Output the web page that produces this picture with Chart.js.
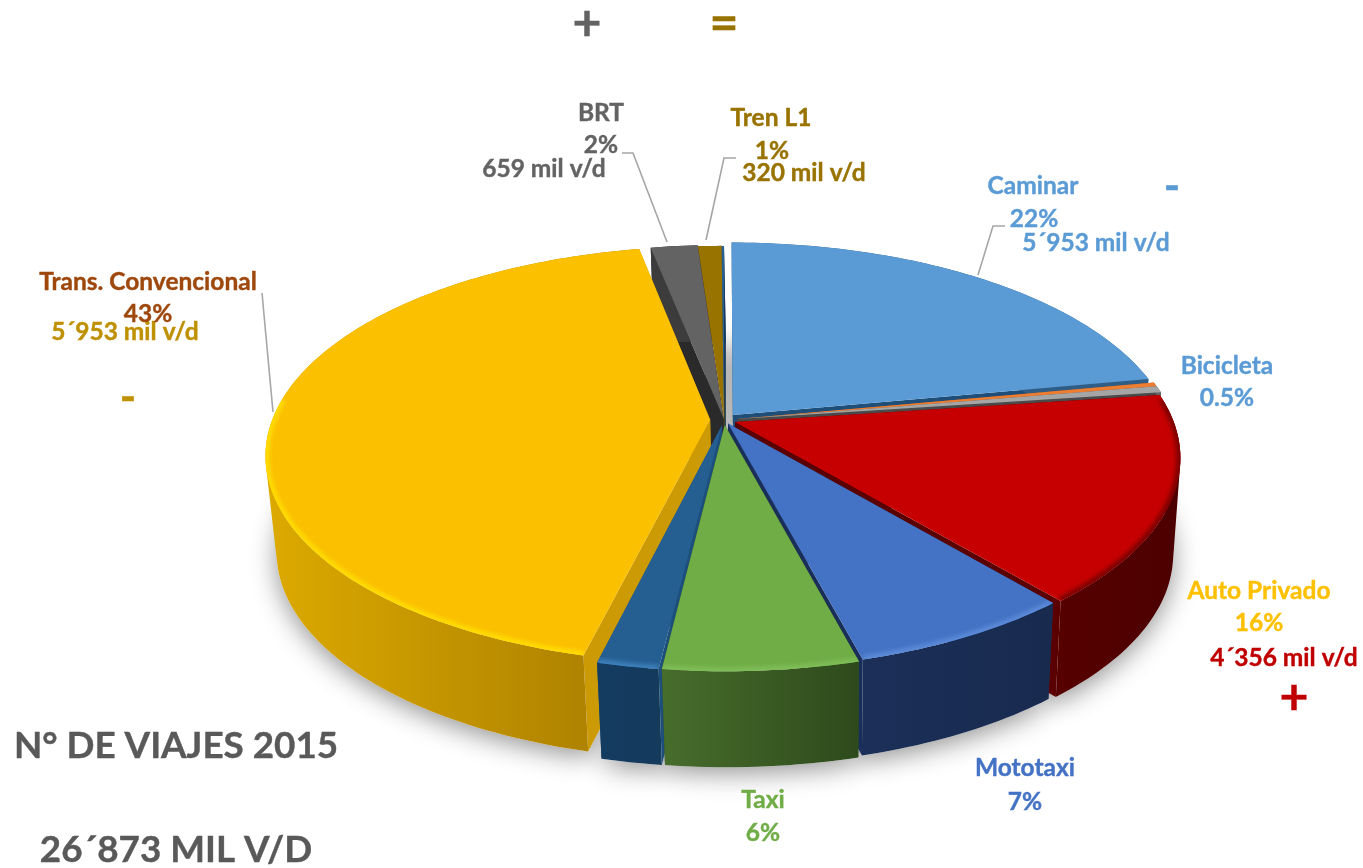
<!DOCTYPE html>
<html>
<head>
<meta charset="utf-8">
<title>N° de viajes 2015</title>
<script src="https://cdn.jsdelivr.net/npm/chart.js@4"></script>
<style>
  html, body { margin: 0; padding: 0; background: #fff; }
  canvas { display: block; }
</style>
</head>
<body>
<canvas id="viajes" width="1363" height="868"></canvas>
<script>
const categories = ['Caminar', 'Otros', 'Bicicleta', 'Auto Privado', 'Mototaxi', 'Taxi', 'Otros 2', 'Trans. Convencional', 'BRT', 'Tren L1', 'Otros 3'];
const shares = [22, 0.3, 0.5, 16, 7, 6, 1.9, 43, 2, 1, 0.1];

const topColors = ['#5b9bd5', '#ed7d31', '#a5a5a5', '#c60000', '#4472c4', '#70ad47', '#255e91', '#fbc000', '#636363', '#997300', '#255e91'];
const sideColors = ['#1f4e79', '#a85a20', '#4a4a4a', '#5a0000', '#1a2e5a', '#2e4a1d', '#1c4f7c', '#cb9a05', '#2a2a2a', '#5c4500', '#1c3d5c'];
// outer wall gradient, left to right
const wallLeft = ['#2f5d85', '#8a4a18', '#666666', '#560000', '#1b2f58', '#476d2c', '#143c60', '#dcaa00', '#3c3c3c', '#5c4500', '#143c60'];
const wallRight = ['#2f5d85', '#8a4a18', '#666666', '#4c0000', '#182a4e', '#2e4a1c', '#143a5c', '#a87c00', '#3c3c3c', '#5c4500', '#143c60'];
const rimColors = ['#5b9bd5', '#ed7d31', '#a5a5a5', '#7a0000', '#5b8ad8', '#7fbd58', '#3d80bb', '#ffdc00', '#636363', '#997300', '#255e91'];
const sliceOffsets = [13.5, 13, 13, 11.5, 8.5, 10.5, 10.5, 13.5, 4, 1, 0];

// x, y (middle of the text), text, colour, font size
const labels = [
  ['BRT', 601, 113, '#636363', 24.5], ['2%', 601, 145, '#636363', 24.5], ['659 mil v/d', 544, 169, '#636363', 24.5],
  ['Tren L1', 771, 118, '#997300', 24.5], ['1%', 772, 151, '#997300', 24.5], ['320 mil v/d', 804, 173, '#997300', 24.5],
  ['Caminar', 1033, 186, '#5b9bd5', 24.5], ['22%', 1034, 219, '#5b9bd5', 24.5], ['5´953 mil v/d', 1096, 243, '#5b9bd5', 24.5],
  ['Bicicleta', 1227, 366, '#5b9bd5', 24.5], ['0.5%', 1227, 398, '#5b9bd5', 24.5],
  ['Auto Privado', 1259, 591, '#ffc000', 24.5], ['16%', 1259, 623, '#ffc000', 24.5], ['4´356 mil v/d', 1284, 658, '#c00000', 24.5],
  ['Mototaxi', 1025, 768, '#4472c4', 24.5], ['7%', 1025, 802, '#4472c4', 24.5],
  ['Taxi', 763, 800, '#70ad47', 24.5], ['6%', 763, 833, '#70ad47', 24.5],
  ['5´953 mil v/d', 125, 332, '#bf9000', 24.5], ['Trans. Convencional', 148, 282, '#9e480e', 24.5], ['43%', 148, 314, '#9e480e', 24.5],
  ['N° DE VIAJES 2015', 176, 746, '#595959', 36.8], ['26´873 MIL V/D', 176, 850, '#595959', 36.8],
  ['+', 587, 24, '#636363', 50], ['=', 724, 24, '#997300', 50], ['-', 1172, 187, '#5b9bd5', 44], ['-', 128, 398, '#bf9000', 44], ['+', 1294, 698, '#c00000', 50]
];

const leaders = [
  [[622, 153], [633, 153], [667, 242]],
  [[736, 158], [724, 158], [706, 240]],
  [[1005, 226], [993, 226], [978, 275]],
  [[262, 293], [273, 412]]
];

// tilted disc: y grows towards the viewer, nearer parts get larger
const disc = { cx: 724, cy: 420, rx: 438, ry: 203, persp: 0.168, depth: 96, baseX: 820, baseScale: 0.98 };

function project(X, Y, bottom) {
  const w = 1 - disc.persp * Y;
  let x = disc.cx + disc.rx * X / w;
  let y = disc.cy + disc.ry * Y / w;
  if (bottom) {
    x = disc.baseX + (x - disc.baseX) * disc.baseScale;
    y += disc.depth;
  }
  return [x, y];
}

function sliceGeometry(arc, i) {
  const mid = (arc.startAngle + arc.endAngle) / 2;
  const shift = arc.options.offset / arc.outerRadius;
  const ox = Math.cos(mid) * shift;
  const oy = Math.sin(mid) * shift;
  const rim = [];
  const steps = Math.max(2, Math.ceil((arc.endAngle - arc.startAngle) / 0.02));
  for (let s = 0; s <= steps; s++) {
    const a = arc.startAngle + (arc.endAngle - arc.startAngle) * s / steps;
    rim.push([ox + Math.cos(a), oy + Math.sin(a)]);
  }
  return { i, ox, oy, rim, midY: Math.sin(mid) };
}

function addPoints(ctx, pts) {
  pts.forEach((p, n) => n ? ctx.lineTo(p[0], p[1]) : ctx.moveTo(p[0], p[1]));
  ctx.closePath();
}

function tracePoints(ctx, pts) {
  ctx.beginPath();
  addPoints(ctx, pts);
}

function signedArea(pts) {
  return pts.reduce((sum, p, n) => {
    const q = pts[(n + 1) % pts.length];
    return sum + p[0] * q[1] - q[0] * p[1];
  }, 0);
}

function facePoints(g, bottom) {
  return [project(g.ox, g.oy, bottom)].concat(g.rim.map(p => project(p[0], p[1], bottom)));
}

function drawWalls(ctx, g) {
  const first = g.rim[0];
  const last = g.rim[g.rim.length - 1];
  ctx.fillStyle = sideColors[g.i];
  [first, last].forEach(edge => {
    tracePoints(ctx, [project(g.ox, g.oy), project(edge[0], edge[1]), project(edge[0], edge[1], true), project(g.ox, g.oy, true)]);
    ctx.fill();
  });
  const upper = g.rim.map(p => project(p[0], p[1]));
  const lower = g.rim.map(p => project(p[0], p[1], true));
  const xs = upper.map(p => p[0]);
  const grad = ctx.createLinearGradient(Math.min(...xs), 0, Math.max(...xs) + 0.1, 0);
  grad.addColorStop(0, wallLeft[g.i]);
  grad.addColorStop(1, wallRight[g.i]);
  ctx.fillStyle = grad;
  // all rim steps go into one path, wound the same way, so the sweep fills without seams
  ctx.beginPath();
  for (let s = 0; s < upper.length - 1; s++) {
    const quad = [upper[s], upper[s + 1], lower[s + 1], lower[s]];
    addPoints(ctx, signedArea(quad) < 0 ? quad.reverse() : quad);
  }
  ctx.fill();
}

function drawTop(ctx, g) {
  const face = facePoints(g);
  ctx.fillStyle = topColors[g.i];
  tracePoints(ctx, face);
  ctx.fill();

  // soft bevel along the near rim
  const near = g.rim.filter(p => p[1] > -0.12).map(p => project(p[0], p[1]));
  if (near.length > 1) {
    ctx.save();
    tracePoints(ctx, face);
    ctx.clip();
    ctx.filter = 'blur(2px)';
    ctx.strokeStyle = rimColors[g.i];
    ctx.lineWidth = 8;
    ctx.beginPath();
    near.forEach((p, n) => n ? ctx.lineTo(p[0], p[1]) : ctx.moveTo(p[0], p[1]));
    ctx.stroke();
    ctx.restore();
  }
}

const pie3d = {
  id: 'pie3d',
  beforeDatasetsDraw(chart) {
    const ctx = chart.ctx;
    const slices = chart.getDatasetMeta(0).data.map(sliceGeometry);

    ctx.save();
    slices.forEach(g => {
      ctx.save();
      ctx.shadowColor = 'rgba(0,0,0,0.42)';
      ctx.shadowBlur = 26;
      ctx.shadowOffsetY = 6;
      ctx.fillStyle = '#fff';
      tracePoints(ctx, facePoints(g, true));
      ctx.fill();
      ctx.restore();
    });
    slices.slice().sort((a, b) => a.midY - b.midY).forEach(g => drawWalls(ctx, g));
    slices.forEach(g => drawTop(ctx, g));
    ctx.restore();
    return false;
  },
  afterDraw(chart) {
    const ctx = chart.ctx;
    ctx.save();
    ctx.strokeStyle = '#a6a6a6';
    ctx.lineWidth = 1.6;
    leaders.forEach(line => {
      ctx.beginPath();
      line.forEach((p, n) => n ? ctx.lineTo(p[0], p[1]) : ctx.moveTo(p[0], p[1]));
      ctx.stroke();
    });
    ctx.textAlign = 'center';
    ctx.textBaseline = 'middle';
    labels.forEach(([text, x, y, color, size]) => {
      ctx.font = 'bold ' + size + 'px Lato, "Open Sans", sans-serif';
      ctx.fillStyle = color;
      ctx.strokeStyle = color;
      ctx.lineWidth = 0.4;
      ctx.fillText(text, x, y);
      ctx.strokeText(text, x, y);
    });
    ctx.restore();
  }
};

new Chart(document.getElementById('viajes'), {
  type: 'pie',
  data: {
    labels: categories,
    datasets: [{
      data: shares,
      backgroundColor: topColors,
      offset: sliceOffsets,
      borderWidth: 0
    }]
  },
  options: {
    responsive: false,
    animation: false,
    plugins: {
      legend: { display: false },
      tooltip: { enabled: false }
    }
  },
  plugins: [pie3d]
});
</script>
</body>
</html>
